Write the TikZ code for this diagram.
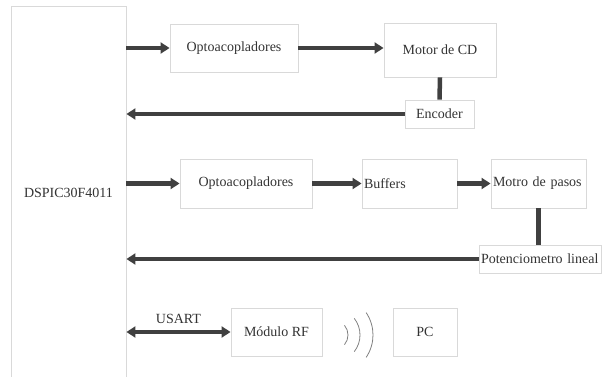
\documentclass[tikz,border=0pt]{standalone}
\usepackage{fontspec}
\setmainfont{Liberation Serif}
\usetikzlibrary{positioning,arrows.meta}

\definecolor{boxgray}{HTML}{D9D9D9}
\definecolor{arrgray}{HTML}{404040}
\definecolor{txtgray}{HTML}{333333}

\tikzset{
  blk/.style={draw=boxgray, line width=0.9pt, text=txtgray, inner sep=2pt},
  arr/.style={draw=arrgray, line width=4.5pt, -{Triangle[length=9pt,width=11pt]}},
  link/.style={draw=arrgray, line width=4.5pt}
}

\begin{document}
\begin{tikzpicture}[x=1pt, y=-1pt, every node/.style={font=\fontsize{14}{16}\selectfont}]
    \clip (0,0) rectangle (603,377);

    \node[blk, minimum width=115pt, minimum height=374pt] (dspic) at (68.5,193) {DSPIC30F4011};

    \node[blk, minimum width=128pt, minimum height=48pt] (opto1) at (234,48) {Optoacopladores};
    \node[blk, minimum width=112pt, minimum height=54pt] (motor) at (440,50) {Motor de CD};
    \node[blk, minimum width=69pt, minimum height=28pt] (enc) at (439.5,114) {Encoder};

    \node[blk, minimum width=132pt, minimum height=49pt] (opto2) at (246,183.5) {Optoacopladores};
    \node[blk, text width=91pt, align=left, minimum height=49pt] (buf) at (409.5,183.5) {Buffers};
    \node[blk, text width=91pt, align=left, minimum height=49pt] (pasos) at (538.5,183.5) {\mbox{Motro de pasos}};
    \node[blk, text width=118pt, align=left, minimum height=28pt] (pot) at (540,259) {\mbox{Potenciometro lineal}};

    \node[blk, minimum width=91pt, minimum height=48pt] (rf) at (276.5,332) {Módulo RF};
    \node[blk, minimum width=64pt, minimum height=48pt] (pc) at (425,332) {PC};

    % motor de CD
    \draw[arr] (dspic.east |- opto1.west) -- (opto1.west);
    \draw[arr] (opto1.east) -- (opto1.east -| motor.west);
    \draw[link] (motor.south) -- (enc.north);
    \draw[arr] (enc.west) -- (enc.west -| dspic.east);

    % motor a pasos
    \draw[arr] (dspic.east |- opto2.west) -- (opto2.west);
    \draw[arr] (opto2.east) -- (buf.west);
    \draw[arr] (buf.east) -- (pasos.west);
    \draw[link] (pasos.south) -- (pasos.south |- pot.north);
    \draw[arr] (pot.west) -- (pot.west -| dspic.east);

    % comunicacion
    \draw[arr, {Triangle[length=9pt,width=11pt]}-{Triangle[length=9pt,width=11pt]}] (dspic.east |- rf.west) -- node[above=3pt, text=txtgray] (usart) {USART} (rf.west);
    \coordinate (wave) at (333,335);
    \draw[gray, line width=0.8pt] ([shift={(-40:15)}]wave) arc[start angle=-40, end angle=40, radius=15];
    \draw[gray, line width=0.8pt] ([shift={(-38:27)}]wave) arc[start angle=-38, end angle=38, radius=27];
    \draw[gray, line width=0.8pt] ([shift={(-34:40)}]wave) arc[start angle=-34, end angle=34, radius=40];
\end{tikzpicture}
\end{document}
